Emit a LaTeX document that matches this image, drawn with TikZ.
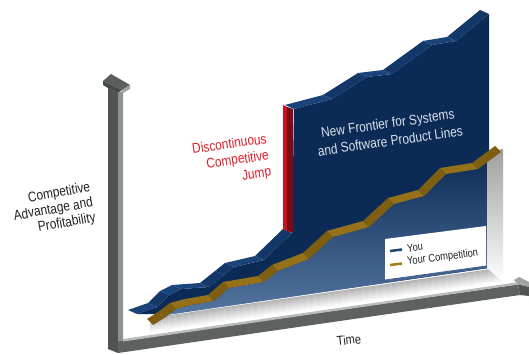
\documentclass[tikz,border=0pt]{standalone}
\usepackage{fontspec}
\setmainfont{Liberation Sans}[FakeStretch=0.85]
\definecolor{navy}{HTML}{0B2B56}
\definecolor{navyrib}{HTML}{1A4479}
\definecolor{navyribs}{HTML}{123768}
\definecolor{navyfold}{HTML}{2F5A92}
\definecolor{gold}{HTML}{95721A}
\definecolor{golds}{HTML}{7E5F12}
\definecolor{steel}{HTML}{5A7AA6}
\definecolor{redL}{HTML}{C8141F}
\definecolor{redD}{HTML}{7E0A14}
\definecolor{axfront}{HTML}{4F5453}
\definecolor{axside}{HTML}{8E9291}
\definecolor{axtop}{HTML}{B9BCBB}
\definecolor{axhead}{HTML}{5A5F5E}
\definecolor{axheadf}{HTML}{464A49}
\definecolor{axlight}{HTML}{A0A3A2}
\definecolor{redtxt}{HTML}{E31B2A}
\definecolor{frtxt}{HTML}{DCE1EA}
\definecolor{legblue}{HTML}{1D4A6E}
\definecolor{leggold}{HTML}{A07A12}
\definecolor{txtdark}{HTML}{222222}
\tikzset{
  lbl/.style={font=\fontsize{14}{15.5}\selectfont, text=txtdark, inner sep=0pt},
  redlbl/.style={font=\fontsize{14}{16.5}\selectfont, text=redtxt, inner sep=0pt},
  frlbl/.style={font=\fontsize{14}{18}\selectfont, text=frtxt, inner sep=0pt},
  leglbl/.style={font=\fontsize{11}{12}\selectfont, text=txtdark, inner sep=0pt},
}
\begin{document}
\begin{tikzpicture}[x=1pt,y=-1pt]
\useasboundingbox[fill=white] (0,0) rectangle (529,355);

% floor band
\foreach \i in {0,...,13}{
  \pgfmathsetmacro\g{30-2.1*\i}
  \fill[black!\g] (150,{318+\i}) -- (502,{267.4+\i}) -- (502,{268.7+\i}) -- (150,{319.3+\i}) -- cycle;
}

% navy wall
\fill[navy] (137,314) -- (157,307) -- (169,295) -- (181,289) -- (209,287) -- (224,275) -- (234,267) -- (264,260) -- (292,233)
  -- (294,109) -- (332,99) -- (367,77) -- (392,74) -- (432,45) -- (456,41) -- (489,14) -- (489,268) -- (170,314) -- cycle;

% navy ribbon
\foreach \a/\b/\c/\d/\col in {128/310/148/303/navyrib, 148/303/160/291/navyribs, 160/291/172/285/navyrib, 172/285/200/283/navyrib,
  200/283/215/271/navyribs, 215/271/225/263/navyribs, 225/263/255/256/navyrib, 255/256/283/229/navyribs,
  285/105/323/95/navyrib, 323/95/358/73/navyribs, 358/73/383/70/navyrib, 383/70/423/41/navyribs, 423/41/447/37/navyrib, 447/37/480/10/navyribs}{
  \fill[\col] (\a,\b) -- (\c,\d) -- ++(9,4) -- ++({\a-\c},{\b-\d}) -- cycle;
}
\foreach \a/\b in {148/303, 160/291, 172/285, 200/283, 215/271, 225/263, 255/256, 323/95, 358/73, 383/70, 423/41, 447/37}{
  \draw[navyfold, line width=0.4pt] (\a,\b) -- ++(9,4);
}

% gradient region under the competition line
\shade[top color=navy, bottom color=steel] (153,325) -- (164,318) -- (176,309) -- (191,305) -- (214,301) -- (229,288) -- (264,282)
  -- (278,271) -- (309,259) -- (333,237) -- (369,227) -- (394,204) -- (424,196) -- (446,174) -- (478,169) -- (501,152)
  -- (501,266) -- (487,268) -- (170,314.5) -- cycle;

% side panel
\shade[top color=black!38, bottom color=white] (487,152) -- (503,149) -- (503,282) -- (487,268) -- cycle;

% gold ribbon
\foreach \a/\b/\c/\d/\col in {147/319/158/312/golds, 158/312/170/303/golds, 170/303/185/299/gold, 185/299/208/295/gold,
  208/295/223/282/golds, 223/282/258/276/gold, 258/276/272/265/golds, 272/265/303/253/gold, 303/253/327/231/golds,
  327/231/363/221/gold, 363/221/388/198/golds, 388/198/418/190/gold, 418/190/440/168/golds, 440/168/472/163/gold, 472/163/495/146/golds}{
  \fill[\col] (\a,\b) -- (\c,\d) -- ++(6,6) -- ++({\a-\c},{\b-\d}) -- cycle;
}

% red jump
\fill[redL] (283,105) -- (287,107) -- (287,231) -- (283,229) -- cycle;
\fill[redD] (287,107) -- (293,109) -- (293,233) -- (287,231) -- cycle;

% legend
\fill[white] (385,239) -- (486,226) -- (486,266) -- (385,280) -- cycle;
\draw[steel!70!navy, line width=0.8pt] (385,280) -- (486,266);
\coordinate (ly1) at (390,251);
\coordinate (ly2) at (402,249.5);
\coordinate (lc1) at (390,265);
\coordinate (lc2) at (402,263.5);
\draw[legblue, line width=2.5pt] (ly1) -- (ly2);
\draw[leggold, line width=2.5pt] (lc1) -- (lc2);
\node[leglbl, anchor=west, rotate=7] (you) at (407,248.5) {You};
\node[leglbl, anchor=west, rotate=7] (comp) at (407,262) {Your Competition};

% vertical axis
\fill[axfront] (108,88) -- (118,93) -- (118,353) -- (108,349) -- cycle;
\fill[axside] (118,93) -- (123,91) -- (123,341) -- (118,343) -- cycle;
\fill[axhead] (103,81) -- (111,74) -- (130,85) -- (122,90) -- cycle;
\fill[axheadf] (103,81) -- (122,90) -- (118,93) -- (108,88) -- (103,85) -- cycle;
\fill[axlight] (122,90) -- (130,85) -- (130,89) -- (123,93) -- cycle;

% horizontal axis
\fill[axfront!92!white] (118,341.5) -- (518,284.5) -- (520,295) -- (118,353) -- cycle;
\fill[axtop] (123,339) -- (516,282.5) -- (518,284.5) -- (123,341.5) -- cycle;
\fill[axlight] (514,280) -- (519,277) -- (529,282) -- (529,287) -- (518,284.5) -- cycle;
\fill[axfront] (518,284.5) -- (529,287) -- (529,296) -- (520,295) -- cycle;

% texts
\node[lbl, align=right, anchor=east, rotate=10] (ylab) at (93,203) {Competitive\\Advantage and\\Profitability};
\node[redlbl, align=right, anchor=east, rotate=8] (jump) at (269,156) {Discontinuous\\Competitive\\Jump};
\node[frlbl, align=center, rotate=8] (front) at (389,132) {New Frontier for Systems\\and Software Product Lines};
\node[lbl, font=\fontsize{13}{14}\selectfont, rotate=6] (time) at (349,340) {Time};
\end{tikzpicture}
\end{document}
